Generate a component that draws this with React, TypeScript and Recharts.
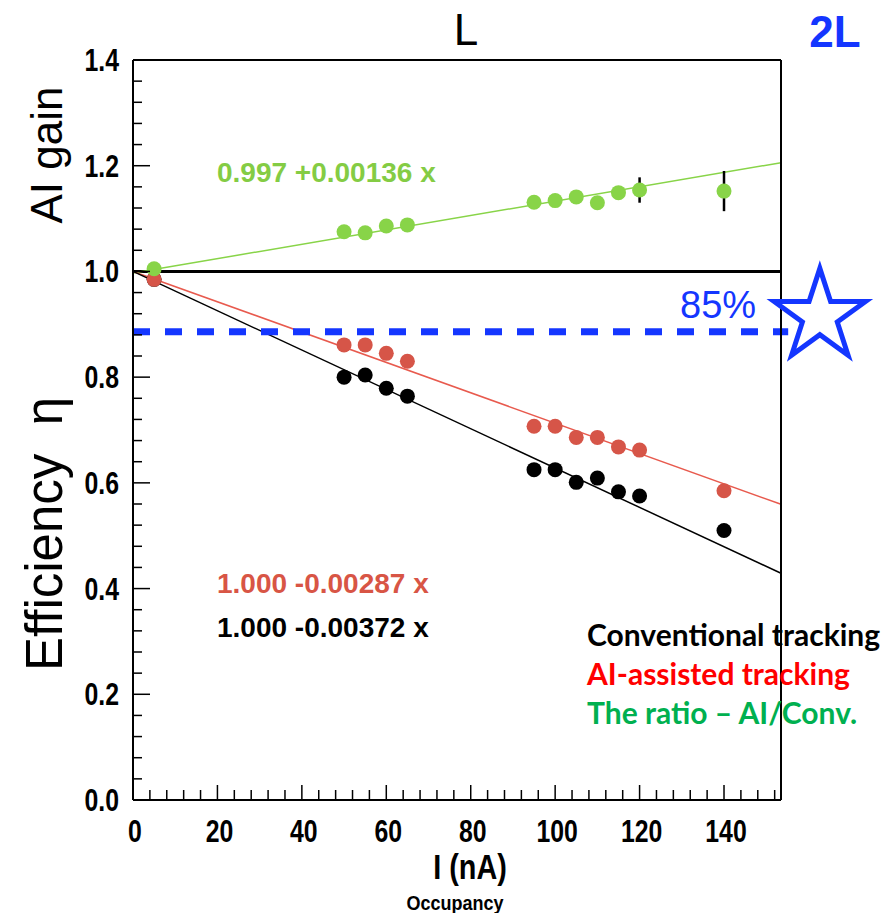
import {
  ComposedChart,
  ErrorBar,
  ReferenceDot,
  ReferenceLine,
  Scatter,
  XAxis,
  YAxis,
} from "recharts";

// beam current I (nA)
const currents = [5, 50, 55, 60, 65, 95, 100, 105, 110, 115, 120, 140];
// efficiency, conventional tracking
const convEff = [0.985, 0.8, 0.804, 0.779, 0.764, 0.625, 0.625, 0.601, 0.609, 0.583, 0.575, 0.51];
// efficiency, AI-assisted tracking
const aiEff = [0.985, 0.861, 0.861, 0.845, 0.83, 0.707, 0.707, 0.686, 0.686, 0.668, 0.662, 0.585];
// ratio AI / conventional and its error
const ratio = [1.005, 1.075, 1.073, 1.086, 1.088, 1.131, 1.134, 1.141, 1.13, 1.149, 1.154, 1.152];
const ratioErr = [0.004, 0.004, 0.004, 0.004, 0.004, 0.008, 0.006, 0.006, 0.01, 0.01, 0.024, 0.038];

// fitted lines: [intercept, slope]
const ratioFit = [0.997, 0.00136];
const aiFit = [1.0, -0.00287];
const convFit = [1.0, -0.00372];

const xMax = 153.5;
const threshold = 0.886;
const xMajor = [0, 20, 40, 60, 80, 100, 120, 140];
const yMajor = [0, 0.2, 0.4, 0.6, 0.8, 1.0, 1.2, 1.4];
const xTicks = Array.from({ length: 39 }, (_, i) => i * 4);
const yTicks = Array.from({ length: 36 }, (_, i) => +(i * 0.04).toFixed(2));

const BLUE = "#1436ff";
const GREEN = "#88d448";
const RED = "#d65548";
const tickFont = "'Liberation Sans', Arial, sans-serif";

const conv = currents.map((x, i) => ({ x, y: convEff[i] }));
const ai = currents.map((x, i) => ({ x, y: aiEff[i] }));
const gain = currents.map((x, i) => ({ x, y: ratio[i], err: ratioErr[i] }));

const fitSeg = (f: number[]) => [
  { x: 0, y: f[0] },
  { x: xMax, y: f[0] + f[1] * xMax },
];

const isMajor = (v: number, list: number[]) => list.some((m) => Math.abs(m - v) < 1e-6);

// narrow bold label, like the condensed Helvetica of the original
function Narrow({ x, y, anchor, size, sx = 0.8, children }: any) {
  return (
    <g transform={`translate(${x},${y}) scale(${sx},1)`}>
      <text textAnchor={anchor} fontFamily={tickFont} fontWeight="bold" fontSize={size} fill="#000">
        {children}
      </text>
    </g>
  );
}

function YTick({ x, y, payload }: any) {
  const major = isMajor(payload.value, yMajor);
  return (
    <g>
      <line x1={x} x2={x + (major ? 17 : 9)} y1={y} y2={y} stroke="#000" strokeWidth={1.5} />
      {major && (
        <Narrow x={x - 14} y={y + 11} anchor="end" size={31}>
          {payload.value.toFixed(1)}
        </Narrow>
      )}
    </g>
  );
}

function XTick({ x, y, payload }: any) {
  const major = isMajor(payload.value, xMajor);
  return (
    <g>
      <line x1={x} x2={x} y1={y} y2={y - (major ? 15 : 10)} stroke="#000" strokeWidth={1.5} />
      {major && (
        <Narrow x={x + 2} y={y + 42} anchor="middle" size={31}>
          {payload.value}
        </Narrow>
      )}
    </g>
  );
}

function TopTick({ x, y, payload }: any) {
  if (!isMajor(payload.value, xMajor) || payload.value === 0) return <g />;
  return <line x1={x} x2={x} y1={y} y2={y + 14} stroke="#000" strokeWidth={1.5} />;
}

const dot = (fill: string) => (p: any) => <circle cx={p.cx} cy={p.cy} r={7.5} fill={fill} />;

function Star({ cx, cy }: any) {
  const R = 48;
  const r = R * 0.382;
  const pts = Array.from({ length: 10 }, (_, i) => {
    const rad = i % 2 === 0 ? R : r;
    const a = -Math.PI / 2 + (i * Math.PI) / 5;
    return `${cx + rad * Math.cos(a)},${cy + rad * Math.sin(a)}`;
  }).join(" ");
  return <polygon points={pts} fill="#fff" stroke={BLUE} strokeWidth={5} strokeLinejoin="miter" />;
}

export default function App() {
  return (
    <div style={{ position: "absolute", left: 0, top: 0, width: 889, height: 913, background: "#fff" }}>
      <ComposedChart
        width={889}
        height={913}
        margin={{ top: 59, right: 107, bottom: 0, left: 0 }}
      >
        <XAxis
          type="number"
          dataKey="x"
          domain={[0, xMax]}
          ticks={xTicks}
          interval={0}
          height={113}
          tickSize={0}
          tickMargin={0}
          tick={<XTick />}
          axisLine={{ stroke: "#000", strokeWidth: 2 }}
        />
        <XAxis
          xAxisId="top"
          orientation="top"
          type="number"
          dataKey="x"
          domain={[0, xMax]}
          ticks={xTicks}
          interval={0}
          height={1}
          tickSize={0}
          tickMargin={0}
          tick={<TopTick />}
          axisLine={{ stroke: "#000", strokeWidth: 2 }}
        />
        <YAxis
          type="number"
          dataKey="y"
          domain={[0, 1.4]}
          ticks={yTicks}
          interval={0}
          width={133}
          tickSize={0}
          tickMargin={0}
          tick={<YTick />}
          axisLine={{ stroke: "#000", strokeWidth: 2 }}
        />
        <YAxis
          yAxisId="right"
          orientation="right"
          type="number"
          dataKey="y"
          domain={[0, 1.4]}
          width={1}
          tick={false}
          tickLine={false}
          axisLine={{ stroke: "#000", strokeWidth: 2 }}
        />
        <ReferenceLine y={1} stroke="#000" strokeWidth={3} />
        <ReferenceLine segment={fitSeg(ratioFit)} stroke={GREEN} strokeWidth={1.5} />
        <ReferenceLine segment={fitSeg(aiFit)} stroke="#e85a4e" strokeWidth={1.5} />
        <ReferenceLine segment={fitSeg(convFit)} stroke="#000" strokeWidth={1.5} />
        <ReferenceLine
          segment={[
            { x: 0, y: threshold },
            { x: 155.2, y: threshold },
          ]}
          stroke={BLUE}
          strokeWidth={7}
          strokeDasharray="17 15"
          ifOverflow="visible"
        />
        <ReferenceDot x={162.7} y={0.915} r={48} shape={<Star />} ifOverflow="visible" />
        <Scatter data={conv} dataKey="y" isAnimationActive={false} shape={dot("#000")} />
        <Scatter data={ai} dataKey="y" isAnimationActive={false} shape={dot(RED)} />
        {/* error bars first so the dots sit on top of them */}
        <Scatter data={gain} dataKey="y" isAnimationActive={false} shape={() => <g />}>
          <ErrorBar dataKey="err" direction="y" width={0} stroke="#000" strokeWidth={2.5} />
        </Scatter>
        <Scatter data={gain} dataKey="y" isAnimationActive={false} shape={dot(GREEN)} />
      </ComposedChart>
      <svg
        width={889}
        height={913}
        style={{ position: "absolute", left: 0, top: 0, pointerEvents: "none" }}
      >
        <g fontFamily="'Liberation Sans', Arial, sans-serif">
          <text x={466} y={45} textAnchor="middle" fontSize={44} fill="#000">
            L
          </text>
          <text x={835} y={47} textAnchor="middle" fontSize={44} fontWeight="bold" fill={BLUE}>
            2L
          </text>
          <text x={680} y={318} fontSize={38} fill={BLUE}>
            85%
          </text>
          <text transform="translate(62,155) rotate(-90)" textAnchor="middle" fontSize={44} fill="#000">
            AI gain
          </text>
          <text transform="translate(62,534) rotate(-90)" textAnchor="middle" fontSize={51} fill="#000">
            {"Efficiency\u00a0\u00a0η"}
          </text>
          <g fontWeight="bold" fontSize={28}>
            <text x={217} y={182} fill="#84cc44">
              0.997 +0.00136 x
            </text>
            <text x={217} y={593} fill="#d85545">
              1.000 -0.00287 x
            </text>
            <text x={217} y={637} fill="#000">
              1.000 -0.00372 x
            </text>
          </g>
        </g>
        <Narrow x={470} y={879} anchor="middle" size={36}>
          I (nA)
        </Narrow>
        <Narrow x={455} y={910} anchor="middle" size={20} sx={0.9}>
          Occupancy
        </Narrow>
        <g fontFamily="Lato, 'Open Sans', sans-serif" fontWeight="bold" fontSize={30}>
          <text x={587} y={646} fill="#000">
            Conventional tracking
          </text>
          <text x={587} y={685} fill="#ff0000">
            AI-assisted tracking
          </text>
          <text x={587} y={724} fill="#00b050">
            The ratio – AI/Conv.
          </text>
        </g>
      </svg>
    </div>
  );
}
